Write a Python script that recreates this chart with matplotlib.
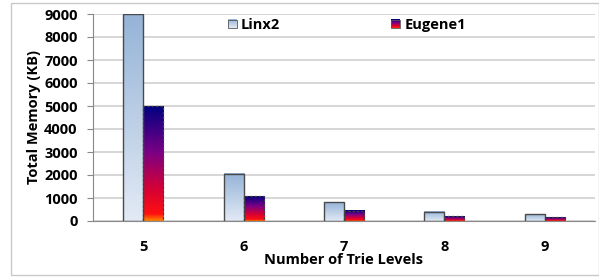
import numpy as np
import matplotlib
matplotlib.use("Agg")
import matplotlib.pyplot as plt
from matplotlib.colors import LinearSegmentedColormap
from matplotlib.legend_handler import HandlerBase
from matplotlib.patches import Rectangle
from matplotlib.image import BboxImage
from matplotlib.transforms import Bbox, TransformedBbox

plt.rcParams['font.family'] = ['Open Sans', 'DejaVu Sans']
plt.rcParams['font.weight'] = 'bold'
fsize = 10.5

levels = ["5", "6", "7", "8", "9"]
linx2 = [9000, 2050, 810, 395, 300]
eugene1 = [4980, 1085, 435, 215, 155]
yticks = [0, 1000, 2000, 3000, 4000, 5000, 6000, 7000, 8000, 9000]

# gradients, bottom -> top
cm_linx = LinearSegmentedColormap.from_list("linx", ["#E2EAF5", "#95B3D7"])
cm_eug = LinearSegmentedColormap.from_list(
    "eug", [(0.0, "#FF8A00"), (0.06, "#FF1010"), (0.3, "#D0003A"),
            (0.6, "#7A0085"), (1.0, "#000080")])
grad = np.linspace(0, 1, 256).reshape(-1, 1)

fig = plt.figure(figsize=(5.99, 2.78), dpi=100)
ax = fig.add_axes([93/599, 1-221/278, 502/599, 207/278])

x = np.arange(len(levels))
w = 0.2
b1 = ax.bar(x - w/2, linx2, w, facecolor="none", edgecolor="#4a4a4a", lw=1.0, zorder=3)
b2 = ax.bar(x + w/2, eugene1, w, facecolor="none", edgecolor="#404040", lw=0.9,
            linestyle=(0, (2, 1.5)), zorder=3)

for bars, cmap in ((b1, cm_linx), (b2, cm_eug)):
    for r in bars:
        x0, y0 = r.get_x(), r.get_y()
        ax.imshow(grad, cmap=cmap, origin="lower", aspect="auto",
                  extent=(x0, x0 + r.get_width(), y0, y0 + r.get_height()),
                  zorder=2, interpolation="bilinear")

ax.set_xlim(-0.5, len(levels) - 0.5)
ax.set_ylim(0, 9000)
ax.set_yticks(yticks)
ax.set_xticks(x)
ax.set_xticklabels(levels)
ax.grid(axis="y", color="#d0d0d0", lw=1.2, zorder=0)
ax.set_axisbelow(True)
for s in ("top", "right"):
    ax.spines[s].set_visible(False)
ax.spines["left"].set_color("#888888")
ax.spines["bottom"].set_color("#888888")
ax.tick_params(axis="y", length=4, color="#888888", labelsize=fsize, pad=7)
ax.tick_params(axis="x", length=0, labelsize=fsize, pad=14)
ax.set_ylabel("Total Memory (KB)", fontsize=fsize, fontweight="bold", labelpad=2)
ax.set_xlabel("Number of Trie Levels", fontsize=fsize, fontweight="bold", labelpad=-1)


class GradHandler(HandlerBase):
    def __init__(self, cmap, ec):
        super().__init__()
        self.cmap = cmap
        self.ec = ec

    def create_artists(self, legend, orig, xd, yd, width, height, fontsize, trans):
        s = 8.5 * 72 / 100
        x0 = xd + width - s
        y0 = yd + (height - s) / 2
        bb = TransformedBbox(Bbox.from_bounds(x0, y0, s, s), trans)
        img = BboxImage(bb, cmap=self.cmap, interpolation="bilinear", origin="lower")
        img.set_data(grad)
        rect = Rectangle((x0, y0), s, s, facecolor="none", edgecolor=self.ec,
                         lw=0.6, transform=trans)
        return [img, rect]


h1 = Rectangle((0, 0), 1, 1)
h2 = Rectangle((0, 0), 1, 1)
ax.legend([h1, h2], ["Linx2", "Eugene1"], ncol=2, frameon=False,
          loc="center left", bbox_to_anchor=(0.26, 1 - 11/207), fontsize=fsize,
          columnspacing=7.5, handlelength=0.7, handletextpad=0.3,
          borderpad=0.2, borderaxespad=0,
          handler_map={h1: GradHandler(cm_linx, "#555555"),
                       h2: GradHandler(cm_eug, "#555555")})

# outer frame of the chart area
fig.patches.append(Rectangle((11/599, 3/278), 1 - 11/599 - 0.5/599, 1 - 6/278,
                             transform=fig.transFigure, facecolor="none",
                             edgecolor="#c8c8c8", lw=1.0))

fig.savefig("out.png", dpi=100)
